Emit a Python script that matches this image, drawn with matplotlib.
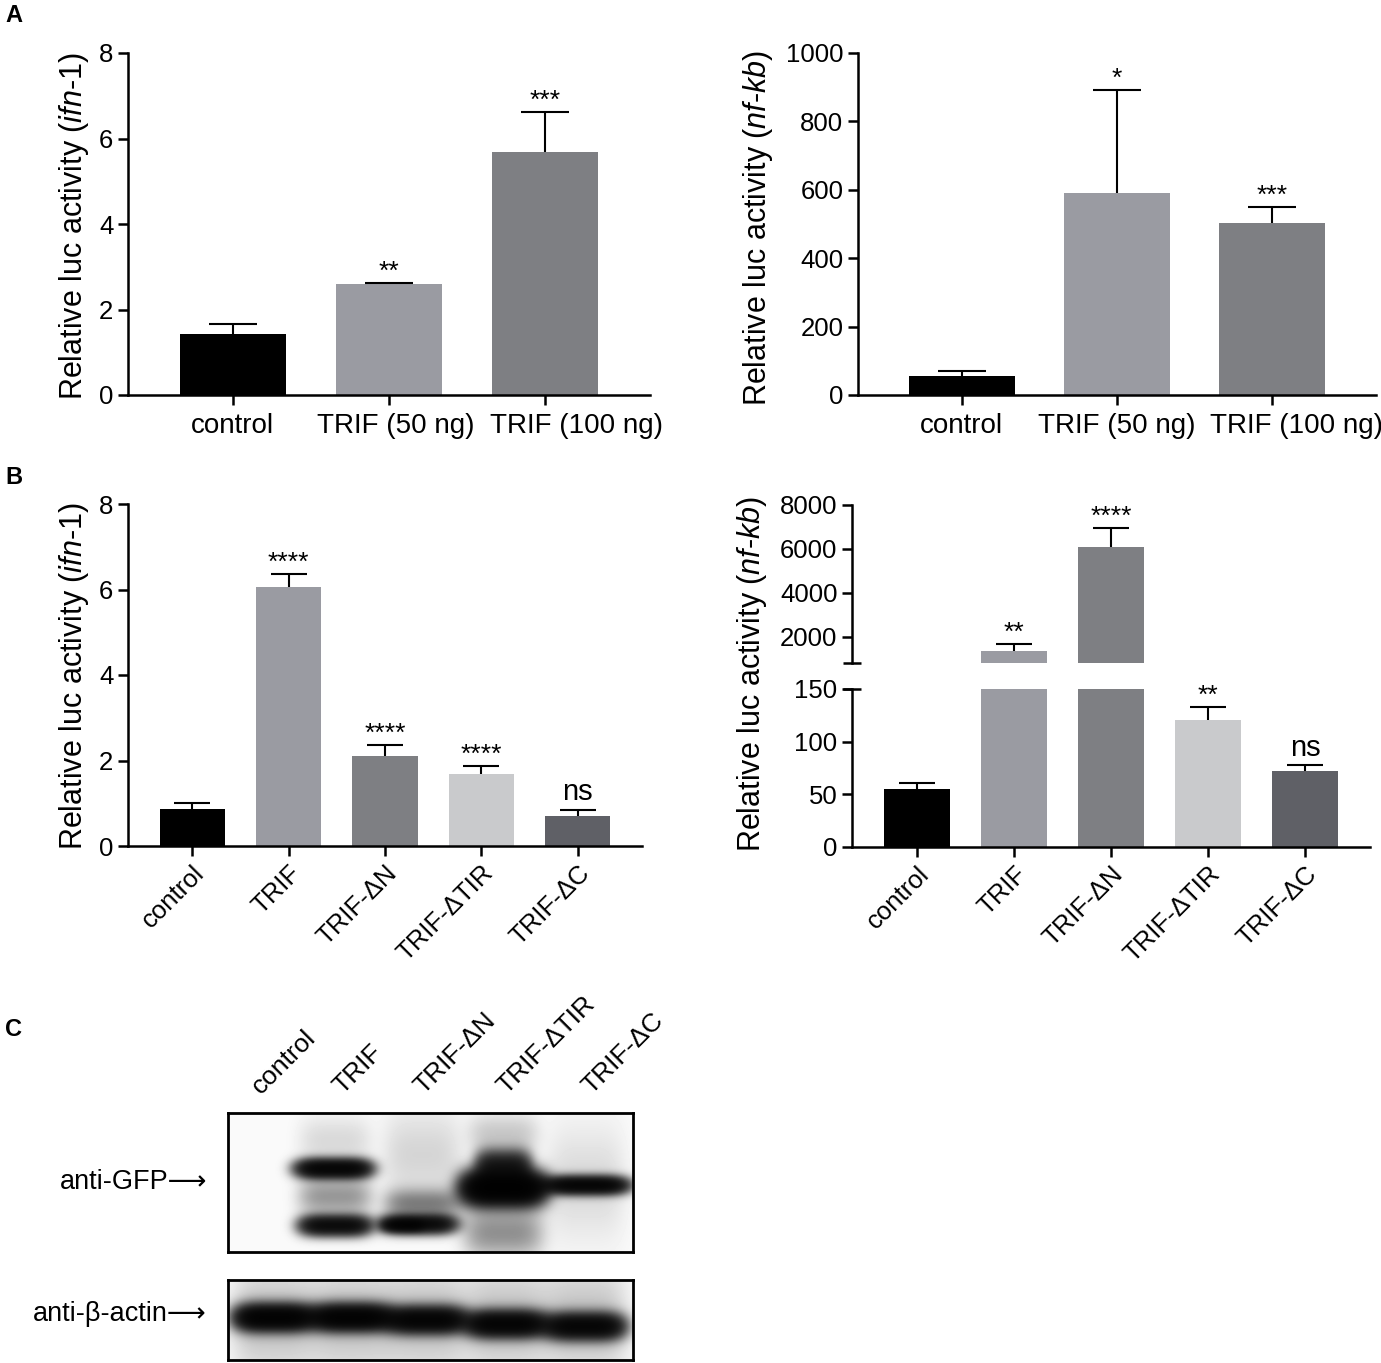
import numpy as np
import matplotlib
matplotlib.use('Agg')
import matplotlib.pyplot as plt
from matplotlib import font_manager
from matplotlib.transforms import blended_transform_factory

# ---------------- data ----------------
a_categories = ['control', 'TRIF (50 ng)', 'TRIF (100 ng)']
a_ifn_mean = [1.42, 2.60, 5.68]
a_ifn_upper = [1.66, 2.62, 6.61]
a_ifn_sig = ['', '**', '***']
a_nfkb_mean = [55, 591, 503]
a_nfkb_upper = [70, 891, 549]
a_nfkb_sig = ['', '*', '***']

b_categories = ['control', 'TRIF', 'TRIF-\u0394N', 'TRIF-\u0394TIR', 'TRIF-\u0394C']
b_ifn_mean = [0.87, 6.06, 2.11, 1.68, 0.70]
b_ifn_upper = [1.00, 6.36, 2.36, 1.87, 0.84]
b_ifn_sig = ['', '****', '****', '****', 'ns']
b_nfkb_mean = [55, 1364, 6090, 121, 72.6]
b_nfkb_upper = [61, 1682, 6950, 133, 77.6]
b_nfkb_sig = ['', '**', '****', '**', 'ns']

a_colors = ['#000000', '#9a9ba2', '#7e7f83']
b_colors = ['#000000', '#9a9ba2', '#7e7f83', '#c9cacc', '#5f6066']

# western blot (lane labels and band descriptions, box-relative coords)
blot_lanes = ['control', 'TRIF', 'TRIF-\u0394N', 'TRIF-\u0394TIR', 'TRIF-\u0394C']
blot_label_x = [0.09, 0.29, 0.49, 0.695, 0.905]
gfp_band_x = [0.261, 0.265, 0.265, 0.265, 0.47, 0.43, 0.48, 0.48, 0.68, 0.68, 0.68, 0.68, 0.885, 0.885]
gfp_band_y = [0.40, 0.81, 0.60, 0.20, 0.80, 0.81, 0.65, 0.30, 0.54, 0.37, 0.86, 0.15, 0.52, 0.50]
gfp_band_hw = [0.09, 0.085, 0.088, 0.088, 0.09, 0.05, 0.09, 0.095, 0.10, 0.065, 0.095, 0.085, 0.10, 0.095]
gfp_band_sy = [0.045, 0.048, 0.09, 0.12, 0.045, 0.03, 0.07, 0.22, 0.08, 0.07, 0.12, 0.1, 0.042, 0.28]
gfp_band_amp = [3.5, 3.0, 0.5, 0.14, 3.0, 1.2, 0.65, 0.16, 5.0, 2.0, 0.55, 0.22, 3.5, 0.14]
actin_band_x = [0.115, 0.305, 0.49, 0.687, 0.88]
actin_band_y = [0.47, 0.47, 0.50, 0.55, 0.58]
actin_band_amp = [4.0, 4.0, 3.6, 3.6, 3.4]

# ---------------- style ----------------
W, H = 1381, 1363
names = {f.name for f in font_manager.fontManager.ttflist}
REG = 'Liberation Sans' if 'Liberation Sans' in names else 'DejaVu Sans'
plt.rcParams['font.family'] = [REG, 'DejaVu Sans']
plt.rcParams['mathtext.fontset'] = 'custom'
plt.rcParams['mathtext.rm'] = REG
plt.rcParams['mathtext.it'] = REG + ':italic'

fig = plt.figure(figsize=(W / 100, H / 100), dpi=100)


def px_axes(x0, y0, x1, y1):
    return fig.add_axes([x0 / W, 1 - y1 / H, (x1 - x0) / W, (y1 - y0) / H])


SP_LW = 1.8
TICK_FS = 18.5


def style(ax):
    for s in ['top', 'right']:
        ax.spines[s].set_visible(False)
    for s in ['left', 'bottom']:
        ax.spines[s].set_linewidth(SP_LW)
    ax.tick_params(width=SP_LW, length=7, labelsize=TICK_FS, direction='out')


def draw_bars(ax, mean, upper, sig, colors, capsize, lo=-np.inf, hi=np.inf):
    x = np.arange(len(mean))
    ax.bar(x, mean, 0.68, color=colors, zorder=2)
    for i in range(len(mean)):
        if lo <= mean[i] <= hi:
            _, caps, _ = ax.errorbar(x[i], mean[i], yerr=[[0], [upper[i] - mean[i]]], fmt='none',
                                     ecolor='black', elinewidth=1.5, capsize=capsize,
                                     capthick=1.5, zorder=3, clip_on=False)
            caps[0].set_visible(False)
            if sig[i]:
                if sig[i] == 'ns':
                    ax.annotate(sig[i], (x[i], upper[i]), xytext=(0, 7), textcoords='offset points',
                                ha='center', va='baseline', fontsize=21, annotation_clip=False)
                else:
                    ax.annotate(sig[i], (x[i], upper[i]), xytext=(0, 3), textcoords='offset points',
                                ha='center', va='baseline', fontsize=19, annotation_clip=False)


def set_cats(ax, cats, rot=False, shift=None):
    x = np.arange(len(cats))
    ax.set_xticks(x)
    if rot:
        ax.set_xticklabels(cats, rotation=45, ha='right', rotation_mode='anchor', fontsize=20)
    else:
        ax.set_xticklabels([''] * len(cats))
        tr = blended_transform_factory(ax.transData, ax.transAxes)
        h = ax.get_position().height * H
        for xi, c, s in zip(x, cats, shift):
            ax.text(xi + s, -38 / h, c, transform=tr, ha='center', va='baseline', fontsize=20)
    ax.set_xlim(-0.67, len(cats) - 1 + 0.67)


def ylabel(xc, yc, text):
    fig.text(xc / W, 1 - yc / H, text, rotation=90, ha='center', va='center', fontsize=22)


IFN = r'Relative luc activity ($\mathit{ifn}$-$\mathit{1}$)'
NFKB = r'Relative luc activity ($\mathit{nf}$-$\mathit{kb}$)'

# ---------------- panel A ----------------
ax = px_axes(128, 53, 650, 395)
draw_bars(ax, a_ifn_mean, a_ifn_upper, a_ifn_sig, a_colors, capsize=17)
ax.set_ylim(0, 8)
ax.set_yticks([0, 2, 4, 6, 8])
set_cats(ax, a_categories, shift=[0, 0.04, 0.2])
style(ax)
ylabel(74, 226, IFN)

ax = px_axes(858, 53, 1376, 395)
draw_bars(ax, a_nfkb_mean, a_nfkb_upper, a_nfkb_sig, a_colors, capsize=17)
ax.set_ylim(0, 1000)
ax.set_yticks([0, 200, 400, 600, 800, 1000])
set_cats(ax, a_categories, shift=[0, 0.0, 0.16])
style(ax)
ylabel(758, 228, NFKB)

# ---------------- panel B ----------------
ax = px_axes(128, 504, 642, 846)
draw_bars(ax, b_ifn_mean, b_ifn_upper, b_ifn_sig, b_colors, capsize=13)
ax.set_ylim(0, 8)
ax.set_yticks([0, 2, 4, 6, 8])
set_cats(ax, b_categories, rot=True)
style(ax)
ylabel(74, 676, IFN)

# broken axis
axu = px_axes(852, 505, 1370, 663)
axl = px_axes(852, 689, 1370, 847)
draw_bars(axu, b_nfkb_mean, b_nfkb_upper, b_nfkb_sig, b_colors, capsize=13, lo=818)
draw_bars(axl, b_nfkb_mean, b_nfkb_upper, b_nfkb_sig, b_colors, capsize=13, hi=150)
axu.set_ylim(818, 8000)
axu.set_yticks([2000, 4000, 6000, 8000])
axl.set_ylim(0, 150)
axl.set_yticks([0, 50, 100, 150])
for a in (axu, axl):
    set_cats(a, b_categories, rot=True)
    style(a)
axu.spines['bottom'].set_visible(False)
axu.tick_params(axis='x', bottom=False, labelbottom=False)
d = 9 / 518
axu.plot([-d, d], [0, 0], transform=axu.transAxes, color='black', lw=SP_LW, clip_on=False,
         solid_capstyle='butt')
axl.plot([-d, d], [1, 1], transform=axl.transAxes, color='black', lw=SP_LW, clip_on=False,
         solid_capstyle='butt')
ylabel(752, 674, NFKB)

# ---------------- panel C (western blot) ----------------


def render(xs, ys, hws, sys, amps, nx, ny, base):
    gx = (np.arange(nx) + 0.5) / nx
    gy = (np.arange(ny) + 0.5) / ny
    X, Y = np.meshgrid(gx, gy)
    I = np.full_like(X, base)
    for xk, yk, hw, sy, a in zip(xs, ys, hws, sys, amps):
        I += a * np.exp(-np.abs((X - xk) / hw) ** 4) * np.exp(-0.5 * ((Y - yk) / sy) ** 2)
    return np.exp(-I)


gfp_img = render(gfp_band_x, gfp_band_y, gfp_band_hw, gfp_band_sy, gfp_band_amp, 405, 139, 0.02)
axg = px_axes(228, 1113, 633, 1252)
axg.imshow(gfp_img, cmap='gray', vmin=0, vmax=1, extent=[0, 1, 1, 0], aspect='auto',
           interpolation='bilinear')
n = len(actin_band_x)
act_img = render(actin_band_x + actin_band_x, actin_band_y + [0.5] * n,
                 [0.095] * n + [0.1] * n, [0.105] * n + [0.45] * n,
                 actin_band_amp + [0.25] * n, 405, 80, 0.03)
axa = px_axes(228, 1280, 633, 1360)
axa.imshow(act_img, cmap='gray', vmin=0, vmax=1, extent=[0, 1, 1, 0], aspect='auto',
           interpolation='bilinear')
for a in (axg, axa):
    a.set_xlim(0, 1)
    a.set_ylim(1, 0)
    a.set_xticks([])
    a.set_yticks([])
    for s in a.spines.values():
        s.set_linewidth(2)
        s.set_color('black')

for lx, lab in zip(blot_label_x, blot_lanes):
    axg.text(lx, 1 + 14 / 139, lab, transform=axg.transAxes, rotation=45, ha='left',
             va='bottom', rotation_mode='anchor', fontsize=19)

fig.text(207 / W, 1 - 1182 / H, 'anti-GFP\u27f6', ha='right', va='center', fontsize=19.5)
fig.text(207 / W, 1 - 1314 / H, 'anti-\u03b2-actin\u27f6', ha='right', va='center', fontsize=19.5)

# panel letters
fig.text(5 / W, 1 - 4 / H, 'A', fontsize=17, fontweight='bold', va='top', ha='left')
fig.text(5 / W, 1 - 466 / H, 'B', fontsize=17, fontweight='bold', va='top', ha='left')
fig.text(5 / W, 1 - 1018 / H, 'C', fontsize=17, fontweight='bold', va='top', ha='left')

fig.savefig('out.png', dpi=100)
